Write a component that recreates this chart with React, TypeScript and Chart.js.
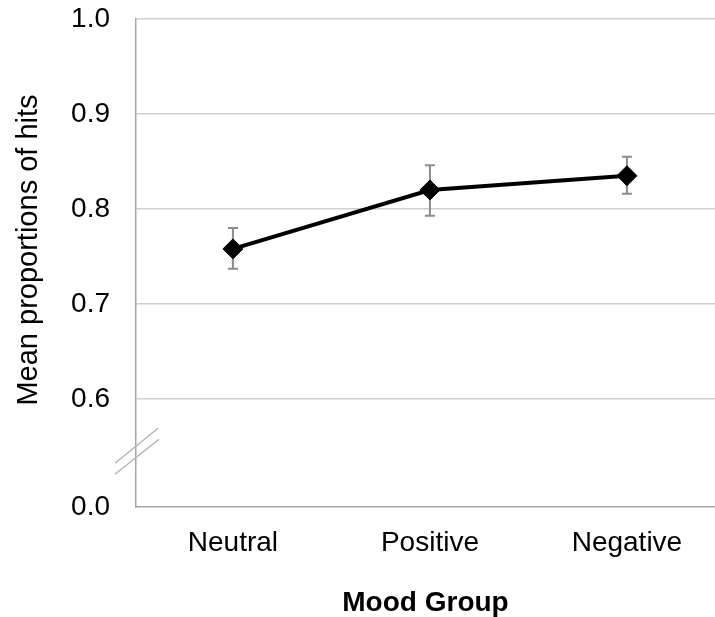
import React, { useEffect, useRef } from "react";
import { Chart, registerables } from "chart.js";

Chart.register(...registerables);

const categories = ["Neutral", "Positive", "Negative"];
const means = [0.758, 0.82, 0.835];
const errUpper = [0.78, 0.846, 0.855];
const errLower = [0.737, 0.793, 0.816];
const yTickValues = [0.6, 0.7, 0.8, 0.9, 1.0];
const FAKE_ZERO = 0.4863; // where "0.0" sits on the broken axis
const BREAK_AT = 0.545;
const Y_TITLE = "Mean proportions of hits";

const FONT = "'Liberation Sans', Arial, sans-serif";

const decorPlugin = {
  id: "decor",
  beforeDatasetsDraw(chart: any) {
    const { ctx, scales } = chart;
    const x = scales.x;
    const y = scales.y;
    ctx.save();
    ctx.strokeStyle = "#8c8c8c";
    ctx.lineWidth = 2;
    for (let i = 0; i < means.length; i++) {
      const px = x.getPixelForValue(i);
      const top = y.getPixelForValue(errUpper[i]);
      const bot = y.getPixelForValue(errLower[i]);
      ctx.beginPath();
      ctx.moveTo(px, top);
      ctx.lineTo(px, bot);
      ctx.moveTo(px - 5, top);
      ctx.lineTo(px + 5, top);
      ctx.moveTo(px - 5, bot);
      ctx.lineTo(px + 5, bot);
      ctx.stroke();
    }
    ctx.restore();
  },
  afterDraw(chart: any) {
    const { ctx, scales, chartArea } = chart;
    const y = scales.y;
    const mid = y.getPixelForValue(BREAK_AT);
    const l = chartArea.left;
    ctx.save();
    ctx.strokeStyle = "#b4b4b4";
    ctx.lineWidth = 1.5;
    ctx.beginPath();
    ctx.moveTo(l - 21, mid + 12);
    ctx.lineTo(l + 22, mid - 23);
    ctx.moveTo(l - 21, mid + 23);
    ctx.lineTo(l + 23, mid - 12);
    ctx.stroke();
    ctx.restore();

    // y-axis title
    ctx.save();
    ctx.translate(29, 250);
    ctx.rotate(-Math.PI / 2);
    ctx.font = `29px ${FONT}`;
    ctx.fillStyle = "#000000";
    ctx.textAlign = "center";
    ctx.textBaseline = "middle";
    ctx.fillText(Y_TITLE, 0, 0);
    ctx.restore();
  },
};

export default function App() {
  const ref = useRef<HTMLCanvasElement>(null);
  useEffect(() => {
    if (!ref.current) return;
    const chart = new Chart(ref.current, {
      type: "line",
      data: {
        datasets: [
          {
            data: means.map((v, i) => ({ x: i, y: v })),
            borderColor: "#000000",
            backgroundColor: "#000000",
            borderWidth: 4,
            pointStyle: "rectRot",
            pointRadius: 10,
            pointBorderWidth: 1,
            pointBackgroundColor: "#000000",
            pointBorderColor: "#000000",
            tension: 0,
          },
        ],
      },
      options: {
        animation: false,
        responsive: false,
        events: [],
        layout: { autoPadding: false, padding: { left: 0, top: 19, right: 0, bottom: 0 } },
        plugins: {
          legend: { display: false },
          tooltip: { enabled: false },
        },
        scales: {
          x: {
            type: "linear",
            min: -0.492,
            max: 2.447,
            afterBuildTicks: (s: any) => {
              s.ticks = categories.map((_, i) => ({ value: i }));
            },
            afterFit: (s: any) => {
              s.height = 110;
              s.paddingLeft = 0;
              s.paddingRight = 0;
              s.paddingTop = 0;
              s.paddingBottom = 0;
            },
            ticks: {
              callback: (v: any) => categories[v as number] ?? "",
              font: { family: FONT, size: 28 },
              color: "#000000",
              padding: 19,
              maxRotation: 0,
              autoSkip: false,
            },
            grid: { display: false, drawTicks: false },
            border: { display: true, color: "#a6a6a6", width: 1.5 },
            title: {
              display: true,
              text: "Mood Group",
              font: { family: FONT, size: 28, weight: "bold", lineHeight: 1.0 },
              color: "#000000",
              padding: { top: 0, bottom: 0 },
            },
          },
          y: {
            type: "linear",
            min: FAKE_ZERO,
            max: 1.0,
            afterBuildTicks: (s: any) => {
              s.ticks = [{ value: FAKE_ZERO }, ...yTickValues.map((v) => ({ value: v }))];
            },
            afterFit: (s: any) => {
              s.width = 136;
              s.paddingTop = 0;
              s.paddingBottom = 0;
              s.paddingLeft = 0;
              s.paddingRight = 0;
            },
            ticks: {
              callback: (v: any) => ((v as number) < 0.5 ? "0.0" : (v as number).toFixed(1)),
              font: { family: FONT, size: 28 },
              color: "#000000",
              padding: 26,
            },
            grid: {
              drawTicks: false,
              color: (c: any) => (c.tick && c.tick.value < 0.5 ? "rgba(0,0,0,0)" : "#d0d0d0"),
              lineWidth: 1.5,
            },
            border: { display: true, color: "#a6a6a6", width: 1.5 },
            title: { display: false },
          },
        },
      },
      plugins: [decorPlugin],
    } as any);
    return () => chart.destroy();
  }, []);
  return (
    <div style={{ position: "absolute", left: 0, top: 0, width: 715, height: 617, background: "#fff" }}>
      <canvas ref={ref} width={715} height={617} style={{ width: 715, height: 617, display: "block" }} />
    </div>
  );
}
